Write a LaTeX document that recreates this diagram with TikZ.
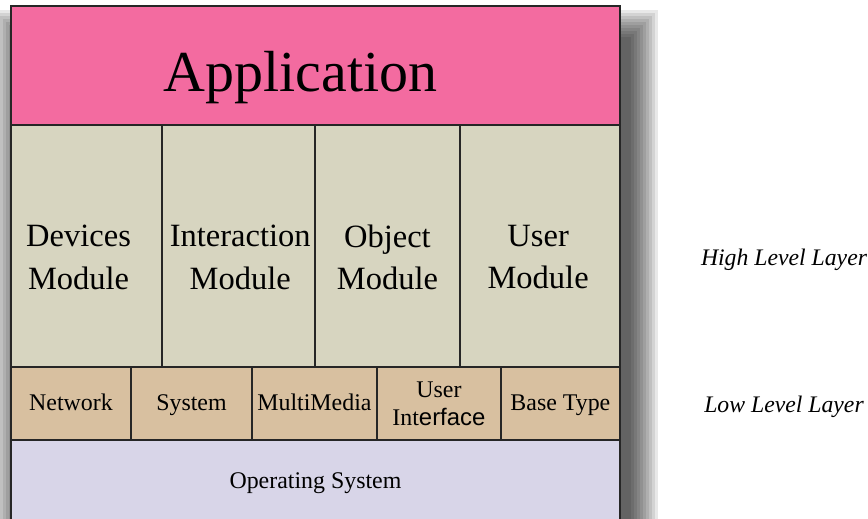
\documentclass[tikz,border=0pt]{standalone}
\usepackage{fontspec}
\setmainfont{Liberation Serif}
\newfontfamily\uisans{Liberation Sans}
\usepackage{xcolor}
\usetikzlibrary{positioning,backgrounds}

\definecolor{apppink}{HTML}{F36BA0}
\definecolor{modbeige}{HTML}{D7D5C0}
\definecolor{lowtan}{HTML}{D8C0A0}
\definecolor{oslav}{HTML}{D8D5E8}

\begin{document}
\begin{tikzpicture}[
  x=0.02cm, y=-0.02cm,
  node distance=0pt and 0pt,
  box/.style={rectangle, draw=black!85, line width=0.8pt, inner sep=0pt, outer sep=0pt, align=center},
  appbox/.style={box, fill=apppink, minimum width=12.18cm, minimum height=2.38cm, font=\fontsize{33}{38}\selectfont,
    execute at begin node={\rule{0pt}{37pt}}, execute at end node={\hspace*{17pt}}},
  modbox/.style={box, fill=modbeige, minimum height=4.84cm},
  modtext/.style={font=\fontsize{18.5}{24}\selectfont, align=center, inner sep=0pt, yshift=-6.5pt},
  lowbox/.style={box, fill=lowtan, minimum height=1.46cm, font=\fontsize{13.6}{16}\selectfont},
  oneline/.style={text height=9pt, text depth=0.5pt},
  osbox/.style={box, fill=oslav, minimum width=12.18cm, minimum height=1.72cm, font=\fontsize{13.6}{16}\selectfont},
  layer/.style={font=\fontsize{13.5}{16}\selectfont\itshape, anchor=base},
]
\useasboundingbox (0,0) rectangle (868,519);

%% --- soft shadow ---
\begin{scope}[on background layer]
  \foreach \e in {1,...,10}
    \fill[black, opacity=0.09] (24-3*\e,40-3*\e) rectangle (628+3*\e,540);
\end{scope}

%% --- Application ---
\node[appbox, anchor=north west] (app) at (11,6) {Application};

%% --- High level modules ---
\node[modbox, minimum width=3.02cm, below right=of app.south west,
      label={[modtext, xshift=-4.5pt]center:Devices\\Module}] (dev) {};
\node[modbox, minimum width=3.06cm, right=of dev,
      label={[modtext, xshift=1pt]center:Interaction\\Module}] (inter) {};
\node[modbox, minimum width=2.90cm, right=of inter,
      label={[modtext]center:Object\\Module}] (obj) {};
\node[modbox, minimum width=3.20cm, right=of obj,
      label={[modtext, xshift=-1pt]center:User\\Module}] (user) {};

%% --- Low level modules ---
\node[lowbox, oneline, minimum width=2.40cm, below right=of dev.south west] (net)  {Network};
\node[lowbox, oneline, minimum width=2.42cm, right=of net]                  (sys)  {System};
\node[lowbox, oneline, minimum width=2.50cm, right=of sys]                  (mm)   {MultiMedia};
\node[lowbox, minimum width=2.48cm, right=of mm]                            (ui)   {User\\Int{\uisans erface}};
\node[lowbox, oneline, minimum width=2.38cm, right=of ui]                   (base) {Base Type};

%% --- Operating system ---
\node[osbox, below right=of net.south west] (os) {Operating System};

%% --- Layer labels ---
\node[layer] (high) at (784,266) {High Level Layer};
\node[layer] (low)  at (784,413) {Low Level Layer};

\end{tikzpicture}
\end{document}
